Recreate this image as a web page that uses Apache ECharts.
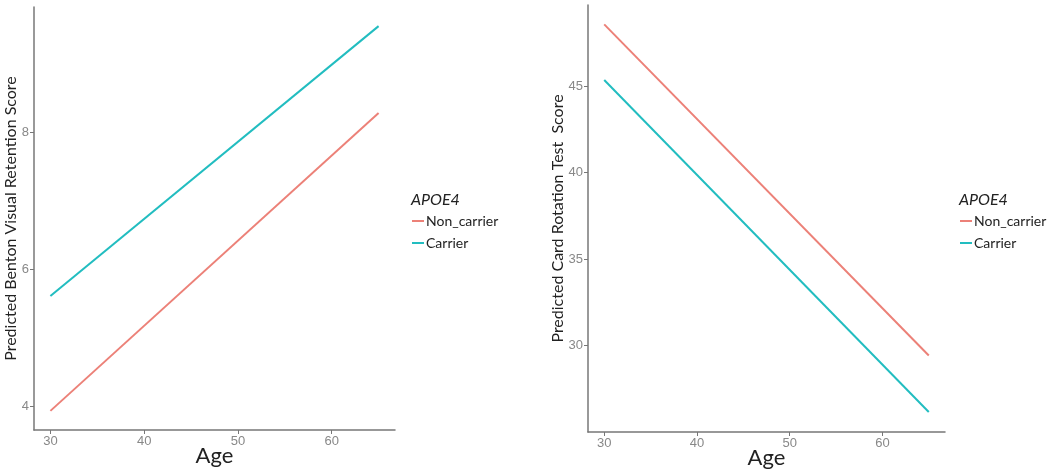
<!DOCTYPE html>
<html><head><meta charset="utf-8">
<script src="https://cdn.jsdelivr.net/npm/echarts@6/dist/echarts.min.js"></script>
<style>html,body{margin:0;padding:0;background:#fff}#c{width:1050px;height:470px}</style>
</head><body><div id="c"></div>
<script>
// Data
const ages = [30, 65];
const bentonNonCarrier = [3.93, 8.29];
const bentonCarrier = [5.61, 9.56];
const cardNonCarrier = [48.57, 29.42];
const cardCarrier = [45.35, 26.16];
const xTicks = [30, 40, 50, 60];
const bentonTicks = [4, 6, 8];
const cardTicks = [30, 35, 40, 45];
const groups = ['Non_carrier', 'Carrier'];
const colors = ['#EC8178', '#22BDC0'];

const pairs = (xs, ys) => xs.map((x, i) => [x, ys[i]]);
const font = 'Lato, "Open Sans", sans-serif';
const tickFont = '"Liberation Sans", Arial, sans-serif';

function xAx(gi) {
  return {
    type: 'value', gridIndex: gi, min: 28.25, max: 66.75,
    name: 'Age', nameLocation: 'middle', nameGap: 15, nameMoveOverlap: false,
    nameTextStyle: { fontFamily: font, fontSize: 22, color: '#222' },
    axisLine: { lineStyle: { color: '#777', width: 1.5 } },
    axisTick: { show: true, length: 4, lineStyle: { color: '#777' }, customValues: xTicks },
    axisLabel: { color: '#888', fontSize: 13, fontFamily: tickFont, margin: 5, customValues: xTicks },
    splitLine: { show: false }
  };
}
function yAx(gi, min, max, ticks, name, gap) {
  return {
    type: 'value', gridIndex: gi, min: min, max: max,
    name: name, nameLocation: 'middle', nameGap: gap, nameMoveOverlap: false,
    nameTextStyle: { fontFamily: font, fontSize: 16, color: '#222' },
    axisLine: { show: true, lineStyle: { color: '#777', width: 1.5 } },
    axisTick: { show: true, length: 4, lineStyle: { color: '#777' }, customValues: ticks },
    axisLabel: { color: '#888', fontSize: 13, fontFamily: tickFont, margin: 5, customValues: ticks },
    splitLine: { show: false }
  };
}
function ser(name, gi, ys, ci) {
  return {
    name: name, type: 'line', xAxisIndex: gi, yAxisIndex: gi,
    data: pairs(ages, ys), showSymbol: false, symbol: 'none',
    lineStyle: { color: colors[ci], width: 2 }, itemStyle: { color: colors[ci] },
    silent: true, animation: false
  };
}
function leg(left) {
  return {
    left: left, top: 209, orient: 'vertical', data: groups,
    icon: 'rect', itemWidth: 12, itemHeight: 2, itemGap: 8,
    textStyle: { fontFamily: font, fontSize: 14, color: '#222', padding: [0, 0, 0, -3] },
    selectedMode: false
  };
}
function ttl(left) {
  return { text: 'APOE4', left: left, top: 192, padding: 0,
    textStyle: { fontFamily: font, fontSize: 16, fontStyle: 'italic', fontWeight: 'normal', color: '#222' } };
}

const chart = echarts.init(document.getElementById('c'), null, { renderer: 'canvas' });
chart.setOption({
  animation: false,
  grid: [
    { left: 34, top: 7, width: 361, height: 423, outerBoundsMode: 'none', containLabel: false },
    { left: 588, top: 5, width: 357, height: 427, outerBoundsMode: 'none', containLabel: false }
  ],
  xAxis: [xAx(0), xAx(1)],
  yAxis: [
    yAx(0, 3.65, 9.84, bentonTicks, 'Predicted Benton Visual Retention Score', 15),
    yAx(1, 25.0, 49.69, cardTicks, 'Predicted Card Rotation Test  Score', 22)
  ],
  legend: [leg(407), leg(955)],
  title: [ttl(411), ttl(959)],
  series: [
    ser('Non_carrier', 0, bentonNonCarrier, 0),
    ser('Carrier', 0, bentonCarrier, 1),
    ser('Non_carrier', 1, cardNonCarrier, 0),
    ser('Carrier', 1, cardCarrier, 1)
  ]
});
</script></body></html>
